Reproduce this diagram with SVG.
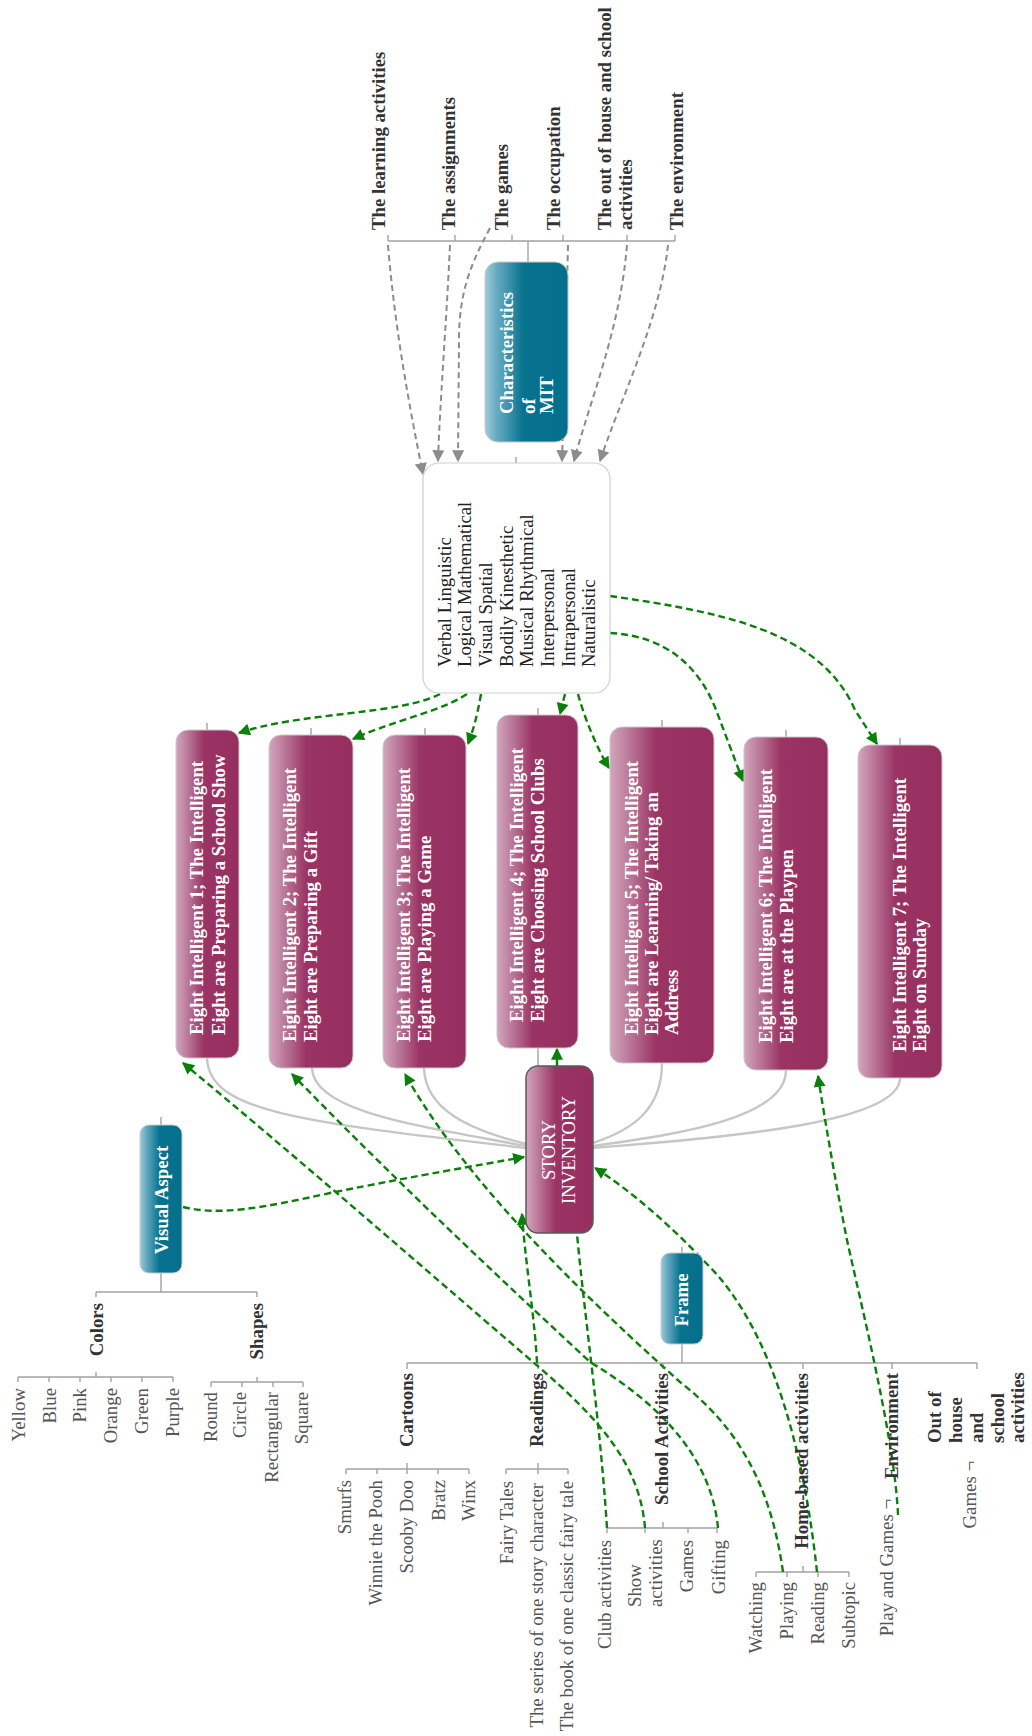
<svg xmlns="http://www.w3.org/2000/svg" width="1032" height="1736" viewBox="0 0 1032 1736">
  <style>
    .t { font-family: "Liberation Serif", "Times New Roman", serif; font-size: 18.8px; }
    .b { font-weight: bold; fill: #333; }
    .r { fill: #555; }
    .k { fill: #222; }
    .w { fill: #fff; font-weight: bold; }
    .wn { fill: #fff; }
    .e { text-anchor: end; }
    .m { text-anchor: middle; }
    .tl { stroke: #a3a3a3; stroke-width: 1.4; fill: none; }
    .sc { stroke: #c6c6c6; stroke-width: 2.4; fill: none; }
    .gd { stroke: #8c8c8c; stroke-width: 2; stroke-dasharray: 6 4; fill: none; marker-end: url(#ahg); }
    .gr { stroke: #0a800a; stroke-width: 2.4; stroke-dasharray: 7 4; fill: none; marker-end: url(#ahr); }
    .grn { stroke: #0a800a; stroke-width: 2.4; stroke-dasharray: 7 4; fill: none; }
    .mag { fill: url(#gm); stroke: #c9c9c9; stroke-width: 1; }
    .teal { fill: url(#gt); stroke: #c9c9c9; stroke-width: 1; }
  </style>
  <defs>
    <linearGradient id="gm" x1="0" y1="0" x2="1" y2="0">
      <stop offset="0" stop-color="#d3a5bd"/>
      <stop offset="0.14" stop-color="#c084a2"/>
      <stop offset="0.44" stop-color="#9a3464"/>
      <stop offset="1" stop-color="#962f5f"/>
    </linearGradient>
    <linearGradient id="gt" x1="0" y1="0" x2="1" y2="0">
      <stop offset="0" stop-color="#9dcbd9"/>
      <stop offset="0.14" stop-color="#68abc1"/>
      <stop offset="0.46" stop-color="#08738f"/>
      <stop offset="1" stop-color="#046f8c"/>
    </linearGradient>
    <marker id="ahg" viewBox="0 0 10 10" refX="9" refY="5" markerWidth="13" markerHeight="12" markerUnits="userSpaceOnUse" orient="auto">
      <path d="M0,0 L10,5 L0,10 z" fill="#8c8c8c"/>
    </marker>
    <marker id="ahr" viewBox="0 0 10 10" refX="9" refY="5" markerWidth="13" markerHeight="12" markerUnits="userSpaceOnUse" orient="auto">
      <path d="M0,0 L10,5 L0,10 z" fill="#0a800a"/>
    </marker>
  </defs>

  <rect width="1032" height="1736" fill="#fff"/>

  <!-- tree branches and links -->
  <g id="connectors">
    <!-- characteristics branch -->
    <path class="tl" d="M388,241 H675 M388,235 V241 M455,235 V241 M512,235 V241 M563,235 V241 M627,235 V241 M675,235 V241 M528,241 V262 M516,457 V463"/>
    <!-- small stubs above the scenario nodes -->
    <path class="tl" d="M207,723 V730 M311,728 V735 M425,728 V735 M538,708 V715 M662,720 V727 M786,730 V737 M900,738 V745"/>
    <!-- scenario nodes into the story inventory -->
    <path class="sc" d="M207,1058 C 209,1112 300,1122 526,1148"/>
    <path class="sc" d="M312,1068 C 313,1112 420,1126 526,1146"/>
    <path class="sc" d="M424,1068 C 425,1110 470,1130 526,1144"/>
    <path class="tl" d="M538,1048 V1066"/>
    <path class="sc" d="M662,1063 C 662,1110 632,1130 593,1143"/>
    <path class="sc" d="M786,1070 C 786,1122 660,1136 593,1146"/>
    <path class="sc" d="M900,1078 C 900,1126 700,1139 593,1148"/>
    <!-- visual aspect branch -->
    <path class="tl" d="M161,1117 V1125 M161,1273 V1292 M96,1292 H257 M96,1292 V1297 M257,1292 V1297"/>
    <path class="tl" d="M96,1372 V1377 M18,1377 H173 M18,1377 V1382 M49,1377 V1382 M80,1377 V1382 M111,1377 V1382 M142,1377 V1382 M173,1377 V1382"/>
    <path class="tl" d="M257,1377 V1382 M211,1382 H303 M211,1382 V1387 M242,1382 V1387 M273,1382 V1387 M303,1382 V1387"/>
    <!-- frame branch -->
    <path class="tl" d="M682,1247 V1253 M682,1344 V1363 M407,1363 H977 M407,1363 V1369 M538,1363 V1369 M663,1363 V1369 M803,1363 V1369 M892,1363 V1369 M977,1363 V1369"/>
    <path class="tl" d="M407,1463 V1469 M346,1469 H469 M346,1469 V1474 M377,1469 V1474 M407,1469 V1474 M438,1469 V1474 M469,1469 V1474"/>
    <path class="tl" d="M538,1463 V1469 M506,1469 H568 M506,1469 V1474 M538,1469 V1474 M568,1469 V1474"/>
    <path class="tl" d="M663,1522 V1528 M607,1528 H717 M607,1528 V1533 M645,1528 V1533 M688,1528 V1533 M717,1528 V1533"/>
    <path class="tl" d="M803,1566 V1572 M756,1572 H849 M756,1572 V1577 M787,1572 V1577 M818,1572 V1577 M849,1572 V1577"/>

    <!-- characteristics into the intelligence list -->
    <path class="gd" d="M388,245 C 395,330 410,410 423,474"/>
    <path class="gd" d="M450,245 C 446,330 440,400 438,461"/>
    <path class="gd" d="M490,228 C 472,262 459,290 459,340 L 458,461"/>
    <path class="gd" d="M568,245 C 566,330 564,400 562,461"/>
    <path class="gd" d="M627,245 C 620,330 590,400 574,461"/>
    <path class="gd" d="M668,245 C 660,320 620,400 600,461"/>

    <!-- intelligence list into the scenarios -->
    <path class="gr" d="M440,694 C 400,715 300,712 239,733"/>
    <path class="gr" d="M467,694 C 440,712 400,718 353,739"/>
    <path class="gr" d="M481,694 C 478,712 474,728 468,744"/>
    <path class="gr" d="M565,694 L 560,714"/>
    <path class="gr" d="M578,694 C 585,720 598,750 609,768"/>
    <path class="gr" d="M610,633 C 665,636 700,665 718,715 L 743,781"/>
    <path class="gr" d="M610,596 C 720,612 820,630 855,710 L 877,744"/>

    <!-- links around the story inventory -->
    <path class="gr" d="M183,1207 C 220,1216 262,1208 330,1193 C 420,1175 480,1165 524,1157"/>
    <path class="gr" d="M557,1066 L 557,1049"/>
    <path class="gr" d="M645,1528 C 640,1465 600,1420 540,1368 C 420,1265 300,1160 183,1063"/>
    <path class="gr" d="M718,1528 C 712,1465 670,1410 590,1362 C 480,1260 380,1165 292,1074"/>
    <path class="gr" d="M783,1572 C 770,1480 735,1425 680,1382 C 600,1310 470,1190 405,1074"/>
    <path class="gr" d="M817,1572 C 805,1460 775,1330 705,1262 C 670,1225 630,1190 595,1168"/>
    <path class="gr" d="M898,1515 C 895,1440 860,1300 847,1240 C 835,1180 825,1120 818,1076"/>
    <path class="gr" d="M537,1363 C 535,1320 525,1260 522,1214"/>
    <path class="grn" d="M607,1528 C 600,1420 585,1320 577,1234"/>
  </g>

  <!-- characteristics labels -->
  <g id="char-labels" class="t b">
    <text transform="translate(384.5 230) rotate(-90)">The learning activities</text>
    <text transform="translate(454.5 230) rotate(-90)">The assignments</text>
    <text transform="translate(507.5 230) rotate(-90)">The games</text>
    <text transform="translate(559.5 230) rotate(-90)">The occupation</text>
    <text transform="translate(610.5 230) rotate(-90)">The out of house and school</text>
    <text transform="translate(631.5 230) rotate(-90)">activities</text>
    <text transform="translate(682.5 230) rotate(-90)">The environment</text>
  </g>

  <g id="characteristics">
    <rect class="teal" x="485" y="262" width="83" height="180" rx="13"/>
    <g class="t w">
      <text transform="translate(512.5 414) rotate(-90)">Characteristics</text>
      <text transform="translate(534.5 414) rotate(-90)">of</text>
      <text transform="translate(552.5 414) rotate(-90)">MIT</text>
    </g>
  </g>

  <g id="intelligences">
    <rect x="423" y="463" width="187" height="230" rx="16" fill="#fff" stroke="#cfcfcf" stroke-width="1.2"/>
    <g class="t k">
      <text transform="translate(450.5 667) rotate(-90)">Verbal Linguistic</text>
      <text transform="translate(471.2 667) rotate(-90)">Logical Mathematical</text>
      <text transform="translate(491.9 667) rotate(-90)">Visual Spatial</text>
      <text transform="translate(512.6 667) rotate(-90)">Bodily Kinesthetic</text>
      <text transform="translate(533.3 667) rotate(-90)">Musical Rhythmical</text>
      <text transform="translate(554 667) rotate(-90)">Interpersonal</text>
      <text transform="translate(574.7 667) rotate(-90)">Intrapersonal</text>
      <text transform="translate(595.4 667) rotate(-90)">Naturalistic</text>
    </g>
  </g>

  <g id="scenario-1">
    <rect class="mag" x="176" y="730" width="63" height="328" rx="12"/>
    <g class="t w">
      <text transform="translate(202.5 1035) rotate(-90)">Eight Intelligent 1; The Intelligent</text>
      <text transform="translate(225 1035) rotate(-90)">Eight are Preparing a School Show</text>
    </g>
  </g>
  <g id="scenario-2">
    <rect class="mag" x="269" y="735" width="84" height="333" rx="12"/>
    <g class="t w">
      <text transform="translate(296 1042) rotate(-90)">Eight Intelligent 2; The Intelligent</text>
      <text transform="translate(316.5 1042) rotate(-90)">Eight are Preparing a Gift</text>
    </g>
  </g>
  <g id="scenario-3">
    <rect class="mag" x="383" y="735" width="83" height="333" rx="12"/>
    <g class="t w">
      <text transform="translate(409.5 1042) rotate(-90)">Eight Intelligent 3; The Intelligent</text>
      <text transform="translate(431 1042) rotate(-90)">Eight are Playing a Game</text>
    </g>
  </g>
  <g id="scenario-4">
    <rect class="mag" x="497" y="715" width="81" height="333" rx="12"/>
    <g class="t w">
      <text transform="translate(522.5 1022) rotate(-90)">Eight Intelligent 4; The Intelligent</text>
      <text transform="translate(544 1022) rotate(-90)">Eight are Choosing School Clubs</text>
    </g>
  </g>
  <g id="scenario-5">
    <rect class="mag" x="610" y="727" width="104" height="336" rx="12"/>
    <g class="t w">
      <text transform="translate(637.5 1035) rotate(-90)">Eight Intelligent 5; The Intelligent</text>
      <text transform="translate(657.5 1035) rotate(-90)">Eight are Learning/ Taking an</text>
      <text transform="translate(677.5 1035) rotate(-90)">Address</text>
    </g>
  </g>
  <g id="scenario-6">
    <rect class="mag" x="744" y="737" width="84" height="333" rx="12"/>
    <g class="t w">
      <text transform="translate(772 1043) rotate(-90)">Eight Intelligent 6; The Intelligent</text>
      <text transform="translate(792.5 1043) rotate(-90)">Eight are at the Playpen</text>
    </g>
  </g>
  <g id="scenario-7">
    <rect class="mag" x="858" y="745" width="84" height="333" rx="12"/>
    <g class="t w">
      <text transform="translate(906 1052) rotate(-90)">Eight Intelligent 7; The Intelligent</text>
      <text transform="translate(926 1052) rotate(-90)">Eight on Sunday</text>
    </g>
  </g>

  <g id="story-inventory">
    <rect x="526" y="1066" width="67" height="167" rx="12" fill="url(#gm)" stroke="#5a5a5a" stroke-width="1.5"/>
    <g class="t wn m">
      <text transform="translate(555 1150) rotate(-90)">STORY</text>
      <text transform="translate(574.5 1150) rotate(-90)">INVENTORY</text>
    </g>
  </g>

  <g id="visual-aspect">
    <rect class="teal" x="140" y="1125" width="42" height="148" rx="9"/>
    <text class="t w m" transform="translate(167.5 1200) rotate(-90)">Visual Aspect</text>
  </g>
  <g id="colors">
    <text class="t b e" transform="translate(102.5 1303) rotate(-90)">Colors</text>
    <g class="t r e">
      <text transform="translate(24.5 1388) rotate(-90)">Yellow</text>
      <text transform="translate(55.5 1388) rotate(-90)">Blue</text>
      <text transform="translate(85.5 1388) rotate(-90)">Pink</text>
      <text transform="translate(116.5 1388) rotate(-90)">Orange</text>
      <text transform="translate(147.5 1388) rotate(-90)">Green</text>
      <text transform="translate(178.5 1388) rotate(-90)">Purple</text>
    </g>
  </g>
  <g id="shapes">
    <text class="t b e" transform="translate(262.5 1303) rotate(-90)">Shapes</text>
    <g class="t r e">
      <text transform="translate(216.5 1392) rotate(-90)">Round</text>
      <text transform="translate(245.5 1392) rotate(-90)">Circle</text>
      <text transform="translate(277.5 1392) rotate(-90)">Rectangular</text>
      <text transform="translate(307.5 1392) rotate(-90)">Square</text>
    </g>
  </g>

  <g id="frame">
    <rect class="teal" x="661" y="1253" width="42" height="91" rx="9"/>
    <text class="t w m" transform="translate(687.5 1300) rotate(-90)">Frame</text>
  </g>
  <g id="cartoons">
    <text class="t b e" transform="translate(412.5 1373) rotate(-90)">Cartoons</text>
    <g class="t r e">
      <text transform="translate(350.5 1480) rotate(-90)">Smurfs</text>
      <text transform="translate(381.5 1480) rotate(-90)">Winnie the Pooh</text>
      <text transform="translate(412.5 1480) rotate(-90)">Scooby Doo</text>
      <text transform="translate(444.5 1480) rotate(-90)">Bratz</text>
      <text transform="translate(474.5 1480) rotate(-90)">Winx</text>
    </g>
  </g>
  <g id="readings">
    <text class="t b e" transform="translate(542.5 1373) rotate(-90)">Readings</text>
    <g class="t r e">
      <text transform="translate(512.5 1481) rotate(-90)">Fairy Tales</text>
      <text transform="translate(542.5 1483) rotate(-90)">The series of one story character</text>
      <text transform="translate(572.5 1481) rotate(-90)">The book of one classic fairy tale</text>
    </g>
  </g>
  <g id="school-activities">
    <text class="t b e" transform="translate(667.5 1373) rotate(-90)">School Activities</text>
    <g class="t r">
      <text class="e" transform="translate(610.5 1540) rotate(-90)">Club activities</text>
      <text transform="translate(640.5 1607) rotate(-90)">Show</text>
      <text transform="translate(661.5 1607) rotate(-90)">activities</text>
      <text class="e" transform="translate(692.5 1540) rotate(-90)">Games</text>
      <text class="e" transform="translate(724.5 1540) rotate(-90)">Gifting</text>
    </g>
  </g>
  <g id="home-based-activities">
    <text class="t b e" transform="translate(807.5 1373) rotate(-90)">Home-based activities</text>
    <g class="t r e">
      <text transform="translate(761.5 1582) rotate(-90)">Watching</text>
      <text transform="translate(792.5 1582) rotate(-90)">Playing</text>
      <text transform="translate(823.5 1582) rotate(-90)">Reading</text>
      <text transform="translate(854.5 1582) rotate(-90)">Subtopic</text>
    </g>
  </g>
  <g id="environment">
    <text class="t b e" transform="translate(897.5 1373) rotate(-90)">Environment</text>
    <text class="t r e" transform="translate(892.5 1499) rotate(-90)">Play and Games ¬</text>
  </g>
  <g id="out-of-house">
    <g class="t b">
      <text transform="translate(940.5 1443) rotate(-90)">Out of</text>
      <text transform="translate(961.5 1443) rotate(-90)">house</text>
      <text transform="translate(982.5 1443) rotate(-90)">and</text>
      <text transform="translate(1004 1443) rotate(-90)">school</text>
      <text transform="translate(1024 1443) rotate(-90)">activities</text>
    </g>
    <text class="t r e" transform="translate(975.5 1461) rotate(-90)">Games ¬</text>
  </g>
</svg>
